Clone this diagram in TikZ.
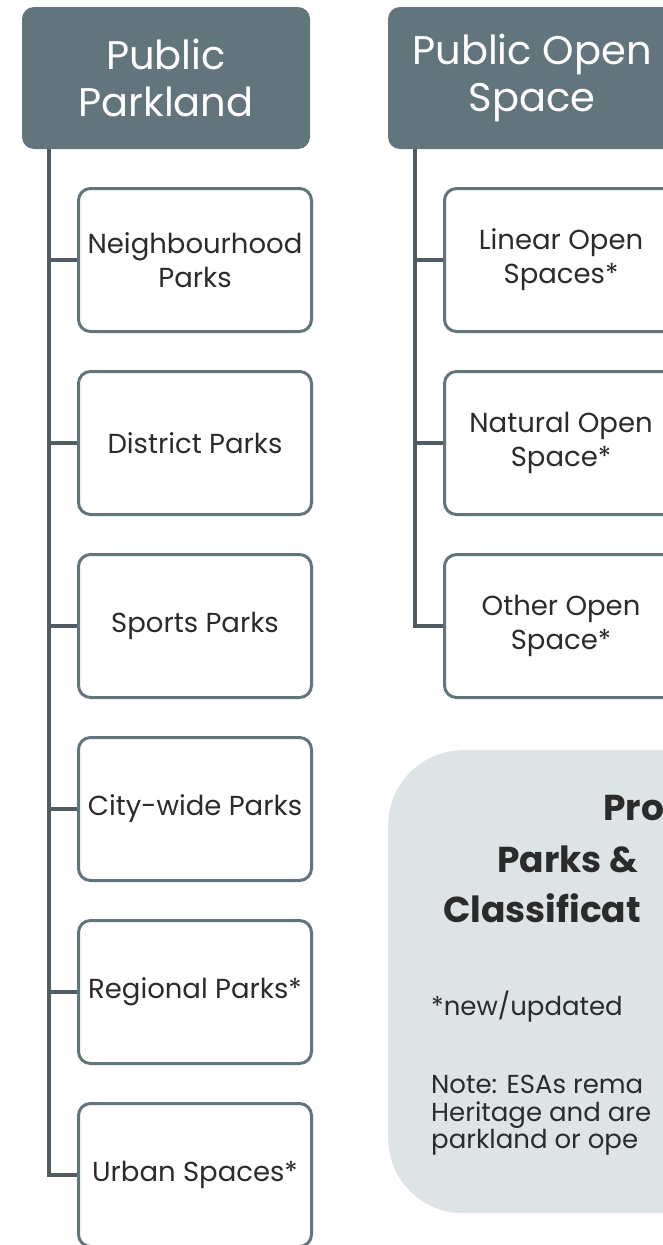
\documentclass[tikz,border=0pt]{standalone}
\usepackage{fontspec}
\setmainfont{Poppins}
\definecolor{slate}{HTML}{63757C}
\definecolor{spinegray}{HTML}{4F5D63}
\definecolor{inkgray}{HTML}{2B2B2B}
\definecolor{panelgray}{HTML}{DEE3E6}
\tikzset{
    header/.style={fill=slate, rounded corners=12pt, minimum width=288pt, minimum height=142pt,
        text=white, align=center, font=\fontsize{40}{47}\selectfont},
    child/.style={draw=slate, line width=3pt, rounded corners=12pt, fill=white,
        minimum width=233pt, minimum height=143pt, align=center, text=inkgray,
        font=\fontsize{27.5}{34}\selectfont},
    spine/.style={draw=spinegray, line width=4pt},
    notetext/.style={anchor=base west, inner sep=0pt, text=inkgray, font=\fontsize{26}{27}\selectfont},
    titletext/.style={anchor=base west, inner sep=0pt, text=inkgray, font=\fontsize{36}{51}\selectfont\bfseries}
}
\begin{document}
\begin{tikzpicture}[x=1pt, y=-1pt]
    \useasboundingbox (0,0) rectangle (662,1245);

    % headers
    \node[header] (PP) at (166,78) {Public\\Parkland};
    \node[header] (POS) at (532,78) {Public Open\\Space};

    % parkland classes
    \node[child] (NP) at (195,260) {Neighbourhood\\Parks};
    \node[child] (DP) at (195,443) {District Parks};
    \node[child] (SP) at (195,626) {Sports Parks};
    \node[child] (CP) at (195,809) {City-wide Parks};
    \node[child] (RP) at (195,992) {Regional Parks*};
    \node[child] (US) at (195,1175) {Urban Spaces*};

    % open space classes
    \node[child] (LO) at (561,260) {Linear Open\\Spaces*};
    \node[child] (NO) at (561,443) {Natural Open\\Space*};
    \node[child] (OO) at (561,626) {Other Open\\Space*};

    \coordinate (PPs) at (49,149);
    \coordinate (POSs) at (415,149);

    \draw[spine] (PPs) |- (US.west);
    \foreach \c in {NP,DP,SP,CP,RP}
        \draw[spine] (PPs |- \c.west) -- (\c.west);
    \draw[spine] (POSs) |- (OO.west);
    \foreach \c in {LO,NO}
        \draw[spine] (POSs |- \c.west) -- (\c.west);

    % legend panel
    \node[fill=panelgray, rounded corners=75pt, minimum width=400pt, minimum height=463pt,
        anchor=north west] (panel) at (388,750) {};
    \node[titletext] (t1) at (603,820) {Pro};
    \node[titletext] (t2) at (497,872) {Parks \&};
    \node[titletext] (t3) at (443,922) {Classificat};
    \node[notetext] (new) at (431,1015) {*new/updated};
    \node[notetext] (n1) at (431,1093) {Note: ESAs rema};
    \node[notetext] (n2) at (431,1121) {Heritage and are};
    \node[notetext] (n3) at (431,1148) {parkland or ope};
\end{tikzpicture}
\end{document}
